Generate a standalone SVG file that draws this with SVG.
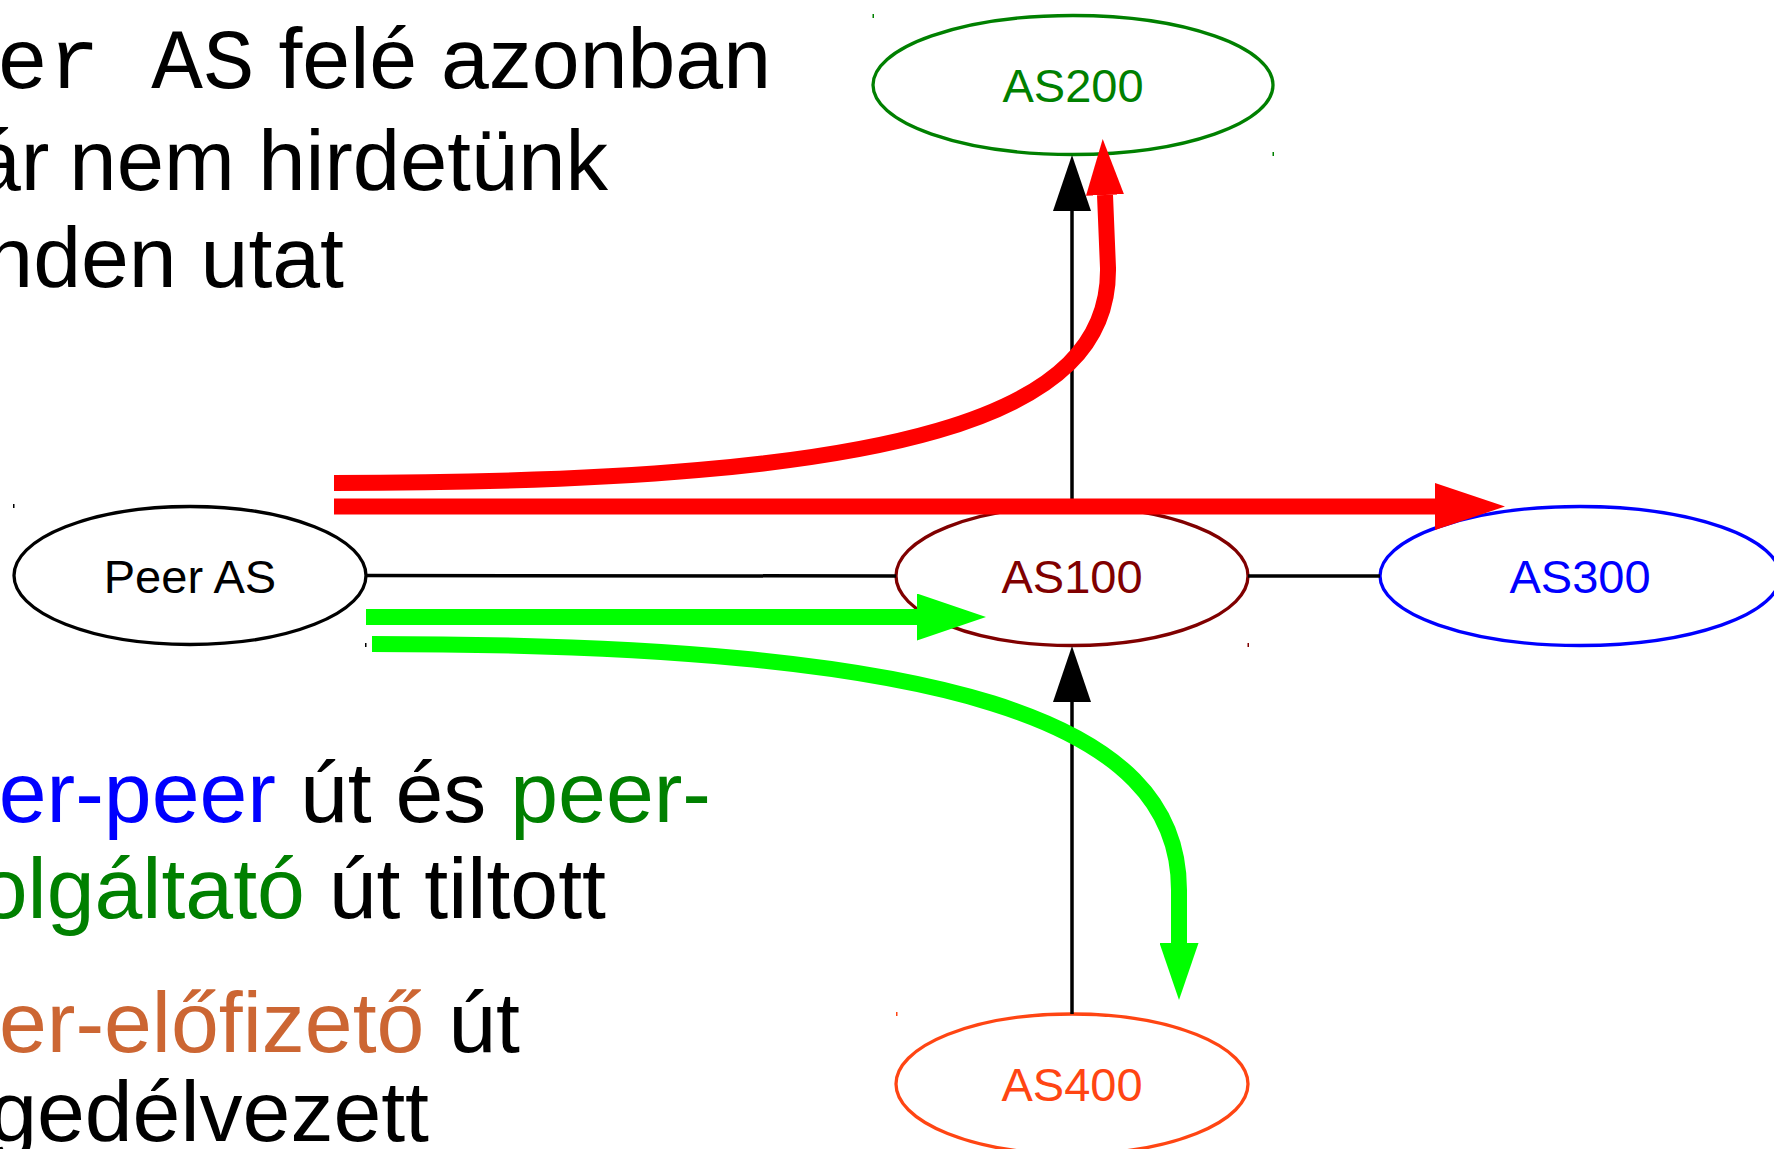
<svg xmlns="http://www.w3.org/2000/svg" width="1774" height="1149" viewBox="0 0 1774 1149">
<style>
.sans{font-family:"Liberation Sans",Arial,sans-serif}
.mono{font-family:"Liberation Mono","Courier New",monospace}
.big{font-size:86px}
.lbl{font-family:"Liberation Sans",Arial,sans-serif;font-size:47px;text-anchor:middle}
.node{fill:#fff;stroke-width:3.3}
.edge{stroke:#000;stroke-width:3.5;fill:none}
.red{stroke:#ff0000;stroke-width:16;fill:none}
.grn{stroke:#00ff00;stroke-width:16;fill:none}
</style>
<defs>
<marker id="ab" markerUnits="userSpaceOnUse" viewBox="0 0 56 38" markerWidth="56" markerHeight="38" refX="0" refY="19" orient="auto"><path d="M0,0 L56,19 L0,38 z" fill="#000"/></marker>
<marker id="ar" markerUnits="userSpaceOnUse" viewBox="0 0 56 38" markerWidth="56" markerHeight="38" refX="0" refY="19" orient="auto"><path d="M0,0 L56,19 L0,38 z" fill="#ff0000"/></marker>
<marker id="arL" markerUnits="userSpaceOnUse" viewBox="0 0 70 47" markerWidth="70" markerHeight="47" refX="0" refY="23.5" orient="auto"><path d="M0,0 L70,23.5 L0,47 z" fill="#ff0000"/></marker>
<marker id="agL" markerUnits="userSpaceOnUse" viewBox="0 0 69 47" markerWidth="69" markerHeight="47" refX="0" refY="23.5" orient="auto"><path d="M0,0 L69,23.5 L0,47 z" fill="#00ff00"/></marker>
<marker id="ag" markerUnits="userSpaceOnUse" viewBox="0 0 57 39" markerWidth="57" markerHeight="39" refX="0" refY="19.5" orient="auto"><path d="M0,0 L57,19.5 L0,39 z" fill="#00ff00"/></marker>
</defs>
<rect width="1774" height="1149" fill="#fff"/>

<g id="text-top" class="sans big">
<text x="771" y="88" text-anchor="end"><tspan class="mono">er AS</tspan> felé azonban</text>
<text x="-27" y="190">ár</text>
<text x="608" y="190" text-anchor="end" font-size="85">nem hirdetünk</text>
<text x="344" y="287" text-anchor="end">nden utat</text>
</g>
<g id="text-bottom" class="sans big">
<text x="711" y="822" text-anchor="end"><tspan fill="#0000ff">er-peer</tspan> út és <tspan fill="#008000">peer-</tspan></text>
<text x="606" y="918" text-anchor="end"><tspan fill="#008000">olgáltató</tspan> út tiltott</text>
<text x="520" y="1052" text-anchor="end"><tspan fill="#cc6633">er-előfizető</tspan> út</text>
<text x="429" y="1141" text-anchor="end">gedélvezett</text>
</g>

<g id="node-as200">
<ellipse class="node" cx="1073" cy="85" rx="200" ry="69.5" stroke="#008000"/>
<text class="lbl" x="1073" y="102" fill="#008000">AS200</text>
<rect x="872.5" y="14" width="1.5" height="4" fill="#008000"/>
<rect x="1272.5" y="152" width="1.5" height="4" fill="#008000"/>
</g>
<g id="node-peeras">
<ellipse class="node" cx="190" cy="575.5" rx="176" ry="69" stroke="#000"/>
<text class="lbl" x="190" y="593" fill="#000">Peer AS</text>
<rect x="13" y="504" width="1.5" height="4" fill="#000"/>
<rect x="365" y="643" width="1.5" height="4" fill="#000"/>
</g>
<g id="node-as100">
<ellipse class="node" cx="1072" cy="576" rx="176" ry="69.5" stroke="#800000"/>
<text class="lbl" x="1072" y="593" fill="#800000">AS100</text>
<rect x="1247.5" y="643" width="1.5" height="4" fill="#800000"/>
</g>
<g id="node-as300">
<ellipse class="node" cx="1580" cy="576" rx="200" ry="69.5" stroke="#0000ff"/>
<text class="lbl" x="1580" y="593" fill="#0000ff">AS300</text>
</g>
<g id="node-as400">
<ellipse class="node" cx="1072" cy="1084" rx="176" ry="70" stroke="#ff4513"/>
<text class="lbl" x="1072" y="1101" fill="#ff4513">AS400</text>
<rect x="896" y="1012" width="1.5" height="4" fill="#ff4513"/>
</g>

<g id="connectors">
<line class="edge" x1="366" y1="575.5" x2="896" y2="576"/>
<line class="edge" x1="1248" y1="576" x2="1380" y2="576"/>
<line class="edge" x1="1072" y1="506" x2="1072" y2="211" marker-end="url(#ab)"/>
<line class="edge" x1="1072" y1="1014" x2="1072" y2="702" marker-end="url(#ab)"/>
<path class="red" d="M334,483 C910,483 1110,415 1108,268 L1105,195" marker-end="url(#ar)"/>
<line class="red" x1="334" y1="506.5" x2="1435" y2="506.5" marker-end="url(#arL)"/>
<line class="grn" x1="366" y1="617" x2="917" y2="617" marker-end="url(#agL)"/>
<path class="grn" d="M372,644 C950,644 1179,720 1179,890 L1179,943" marker-end="url(#ag)"/>
</g>
</svg>
